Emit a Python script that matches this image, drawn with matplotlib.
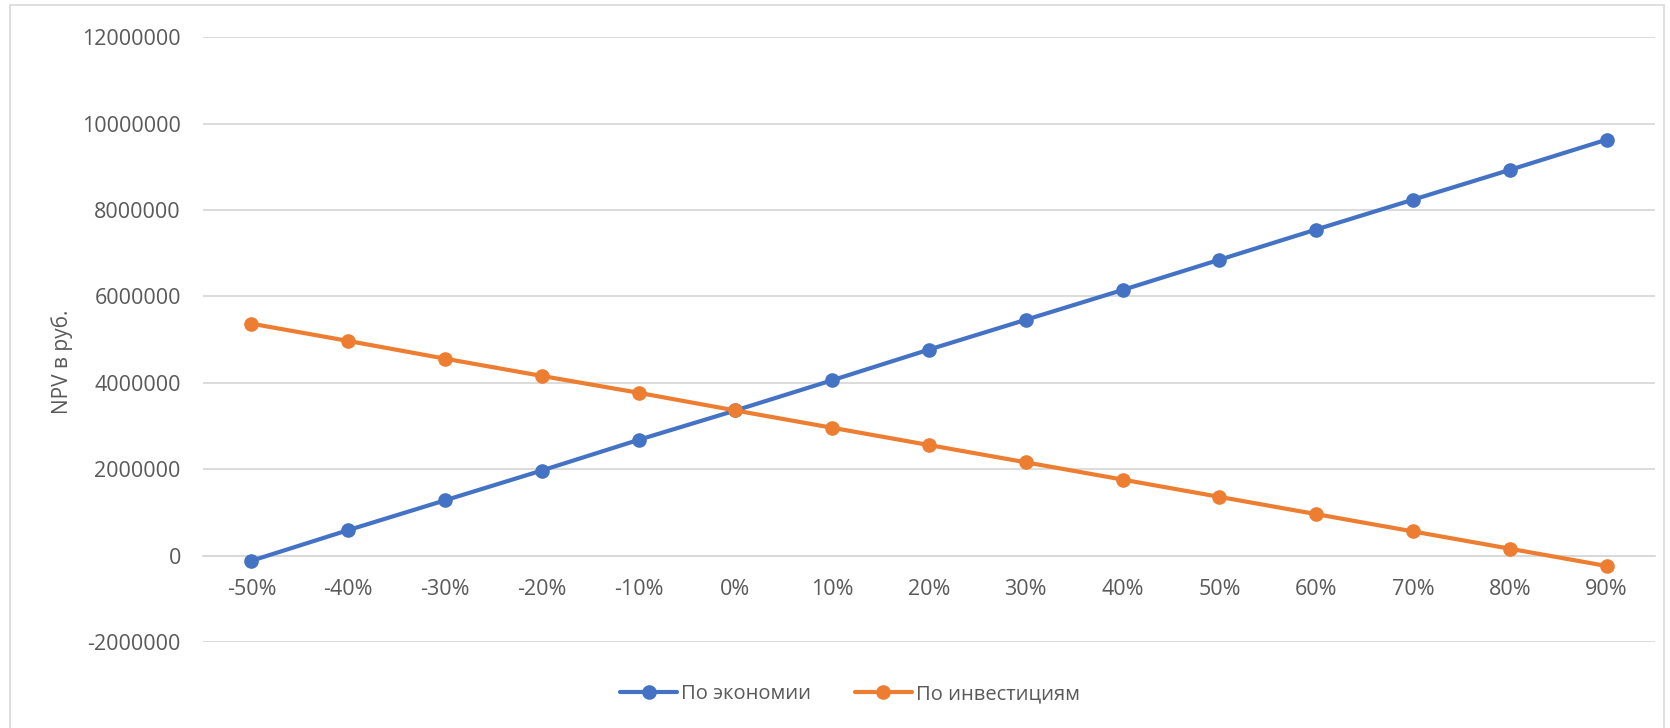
import matplotlib.pyplot as plt
from matplotlib.patches import Rectangle

categories = ['-50%', '-40%', '-30%', '-20%', '-10%', '0%', '10%', '20%',
              '30%', '40%', '50%', '60%', '70%', '80%', '90%']
economy = [-120000, 590000, 1280000, 1970000, 2680000, 3360000, 4060000, 4770000,
           5460000, 6150000, 6850000, 7550000, 8240000, 8930000, 9630000]
investment = [5370000, 4970000, 4560000, 4160000, 3770000, 3360000, 2960000, 2560000,
              2160000, 1760000, 1360000, 960000, 560000, 160000, -240000]

plt.rcParams['font.family'] = ['Open Sans', 'DejaVu Sans']

blue = '#4472C4'
orange = '#ED7D31'
grey = '#595959'
grid_col = '#D9D9D9'

fig = plt.figure(figsize=(16.7, 7.28), dpi=100)
fig.patches.append(Rectangle((10 / 1670, -0.05), 1654 / 1670, 1.05 - 5 / 728,
                             transform=fig.transFigure, fill=False,
                             edgecolor='#D9D9D9', linewidth=1.2))
ax = fig.add_axes([203 / 1670, 1 - 642 / 728, (1655 - 203) / 1670, (642 - 37.3) / 728])

x = list(range(len(categories)))
ax.plot(x, economy, color=blue, linewidth=3.0, marker='o', markersize=9.5,
        label='По экономии', solid_capstyle='round', zorder=3)
ax.plot(x, investment, color=orange, linewidth=3.0, marker='o', markersize=9.5,
        label='По инвестициям', solid_capstyle='round', zorder=3)

ax.set_xlim(-0.5, len(categories) - 0.5)
ax.set_ylim(-2000000, 12000000)
ax.set_yticks(range(-2000000, 12000001, 2000000))
ax.set_yticklabels([str(v) for v in range(-2000000, 12000001, 2000000)])
ax.set_xticks(x)
ax.set_xticklabels(categories)

ax.grid(axis='y', color=grid_col, linewidth=1.3)
ax.set_axisbelow(True)
for s in ['top', 'right', 'left']:
    ax.spines[s].set_visible(False)
ax.spines['bottom'].set_position(('data', 0))
ax.spines['bottom'].set_color(grid_col)
ax.spines['bottom'].set_linewidth(1.3)

ax.tick_params(axis='both', length=0, labelsize=15.5, labelcolor=grey)
ax.tick_params(axis='y', pad=16)
ax.tick_params(axis='x', pad=17)

ax.set_ylabel('NPV в руб.', fontsize=15, color=grey)
ax.yaxis.set_label_coords(73 / 1670, 1 - 362 / 728, transform=fig.transFigure)

leg = fig.legend(loc='center', bbox_to_anchor=(850 / 1670, 1 - 694 / 728), ncol=2,
                 frameon=False, fontsize=14.5, handlelength=2.8, handletextpad=0.2,
                 columnspacing=2.2)
for t in leg.get_texts():
    t.set_color(grey)

fig.savefig('out.png', dpi=100)
